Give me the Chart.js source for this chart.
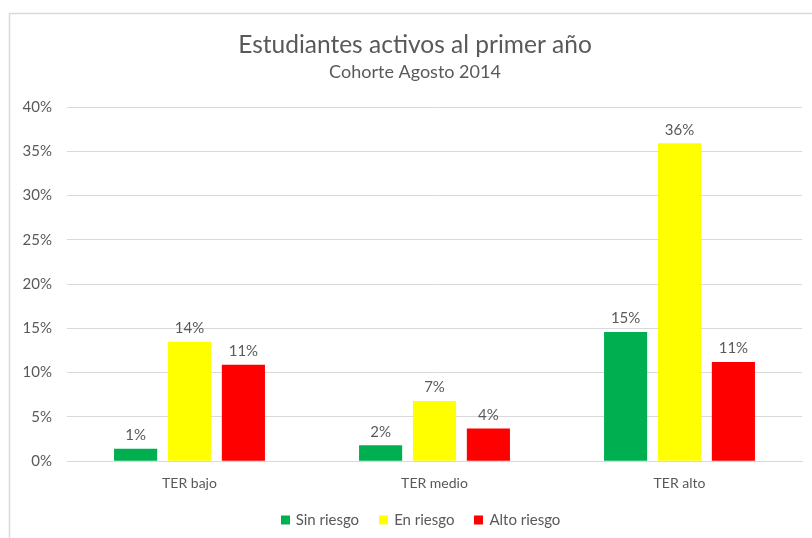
<!DOCTYPE html>
<html>
<head>
<meta charset="utf-8">
<script src="https://cdn.jsdelivr.net/npm/chart.js@4"></script>
<style>
  html, body { margin: 0; padding: 0; background: #ffffff; }
  #wrap { width: 812px; height: 538px; position: relative; }
</style>
</head>
<body>
<div id="wrap"><canvas id="c" width="812" height="538"></canvas></div>
<script>
const categories = ["TER bajo", "TER medio", "TER alto"];
const seriesNames = ["Sin riesgo", "En riesgo", "Alto riesgo"];
const sinRiesgo = [1.4, 1.8, 14.6];
const enRiesgo = [13.5, 6.8, 35.9];
const altoRiesgo = [10.9, 3.7, 11.2];
const yTicks = [0, 5, 10, 15, 20, 25, 30, 35, 40];
const chartTitle = "Estudiantes activos al primer año";
const chartSubtitle = "Cohorte Agosto 2014";

const seriesColors = ["#00B050", "#FFFF00", "#FF0000"];
const textColor = "#595959";
const fontFamily = "Lato, 'Open Sans', sans-serif";

const frame = {
  id: 'frame',
  beforeDraw(chart) {
    const ctx = chart.ctx;
    ctx.save();
    ctx.fillStyle = '#ffffff';
    ctx.fillRect(0, 0, chart.width, chart.height);
    ctx.strokeStyle = '#d9d9d9';
    ctx.lineWidth = 1.5;
    ctx.beginPath();
    ctx.moveTo(9.5, chart.height);
    ctx.lineTo(9.5, 13.5);
    ctx.lineTo(chart.width, 13.5);
    ctx.stroke();
    ctx.restore();
  }
};

// Title, subtitle and legend drawn as canvas text (like Chart.js does), placed like the Excel original
const headerAndLegend = {
  id: 'headerAndLegend',
  afterDraw(chart) {
    const ctx = chart.ctx;
    const cx = 415;
    ctx.save();
    ctx.fillStyle = textColor;
    ctx.textAlign = 'center';
    ctx.textBaseline = 'middle';
    ctx.font = "24.5px " + fontFamily;
    ctx.fillText(chartTitle, cx, 45);
    ctx.font = "18px " + fontFamily;
    ctx.fillText(chartSubtitle, cx, 72);

    // legend
    ctx.font = "15px " + fontFamily;
    const box = 9, gapText = 6, gapItem = 20;
    const items = chart.data.datasets.map(ds => ({ text: ds.label, color: ds.backgroundColor, w: ctx.measureText(ds.label).width }));
    let total = 0;
    items.forEach((it, i) => { total += box + gapText + it.w + (i < items.length - 1 ? gapItem : 0); });
    let x = 420.5 - total / 2;
    const y = 520;
    ctx.textAlign = 'left';
    items.forEach(it => {
      ctx.fillStyle = it.color;
      ctx.fillRect(Math.round(x), y - 4.5, box, box);
      ctx.fillStyle = textColor;
      ctx.fillText(it.text, x + box + gapText, y);
      x += box + gapText + it.w + gapItem;
    });
    ctx.restore();
  }
};

const valueLabels = {
  id: 'valueLabels',
  afterDatasetsDraw(chart) {
    const ctx = chart.ctx;
    ctx.save();
    ctx.font = "15px " + fontFamily;
    ctx.fillStyle = textColor;
    ctx.textAlign = 'center';
    ctx.textBaseline = 'bottom';
    chart.data.datasets.forEach((ds, i) => {
      const meta = chart.getDatasetMeta(i);
      meta.data.forEach((bar, j) => {
        const v = ds.data[j];
        ctx.fillText(Math.round(v) + '%', bar.x, bar.y - 6);
      });
    });
    ctx.restore();
  }
};

new Chart(document.getElementById('c'), {
  type: 'bar',
  data: {
    labels: categories,
    datasets: [
      { label: seriesNames[0], data: sinRiesgo, backgroundColor: seriesColors[0] },
      { label: seriesNames[1], data: enRiesgo, backgroundColor: seriesColors[1] },
      { label: seriesNames[2], data: altoRiesgo, backgroundColor: seriesColors[2] }
    ]
  },
  options: {
    responsive: false,
    animation: false,
    devicePixelRatio: 1,
    layout: { padding: { left: 10, right: 10, top: 107, bottom: 32 } },
    datasets: { bar: { categoryPercentage: 0.66, barPercentage: 0.8 } },
    plugins: {
      title: { display: false },
      subtitle: { display: false },
      legend: { display: false },
      tooltip: { enabled: false }
    },
    scales: {
      x: {
        grid: { display: false, drawTicks: false },
        border: { color: '#d9d9d9' },
        ticks: { color: textColor, padding: 14, font: { family: fontFamily, size: 14 } }
      },
      y: {
        min: 0, max: 40,
        afterFit(scale) { scale.width = 57; },
        afterBuildTicks(scale) { scale.ticks = yTicks.map(v => ({ value: v })); },
        grid: { color: '#d9d9d9', drawTicks: false },
        border: { display: false },
        ticks: {
          color: textColor, padding: 15,
          font: { family: fontFamily, size: 15 },
          callback: v => v + '%'
        }
      }
    }
  },
  plugins: [frame, valueLabels, headerAndLegend]
});
</script>
</body>
</html>
